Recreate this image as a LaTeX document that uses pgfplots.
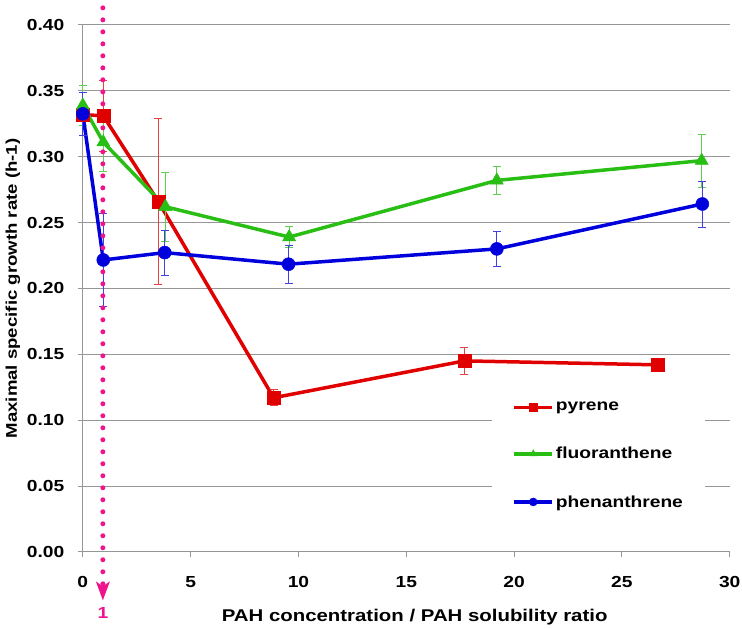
\documentclass[border=0pt]{standalone}
\usepackage{fontspec}
\setmainfont{Liberation Sans}[FakeStretch=1.2]
\usepackage{pgfplots}
\usepackage{pgfplotstable}
\pgfplotsset{compat=1.18}
\definecolor{cred}{RGB}{224,0,0}
\definecolor{cgreen}{RGB}{40,190,20}
\definecolor{cblue}{RGB}{0,0,220}
\definecolor{cpink}{RGB}{240,20,140}
\definecolor{cgrid}{RGB}{150,150,150}

\pgfplotstableread{
x y e
0 0.332 0
0.95 0.331 0.027
3.5 0.266 0.063
8.85 0.117 0.006
17.7 0.145 0.0105
26.65 0.142 0
}\pyrene
\pgfplotstableread{
x y e
0 0.339 0.015
0.95 0.311 0.022
3.83 0.262 0.026
9.57 0.239 0.008
19.2 0.282 0.0105
28.7 0.297 0.020
}\fluor
\pgfplotstableread{
x y e
0 0.3325 0.016
0.95 0.2216 0.035
3.8 0.2272 0.017
9.54 0.2184 0.0145
19.2 0.230 0.0133
28.73 0.2641 0.0175
}\phen

\begin{document}
\begin{tikzpicture}
\begin{axis}[
  scale only axis,
  width=647pt, height=527pt,
  xmin=0, xmax=30, ymin=0, ymax=0.40,
  xtick={0,5,...,30},
  ytick={0,0.05,...,0.40},
  axis x line=bottom, axis y line=left,
  axis line style={-, cgrid, line width=1pt},
  tick style={cgrid, line width=1pt},
  tick align=outside,
  major tick length=5pt,
  ymajorgrids,
  major grid style={cgrid, line width=1pt},
  clip=false,
  font=\fontsize{16}{19}\selectfont\bfseries,
  /pgf/number format/assume math mode=true,
  yticklabel style={/pgf/number format/.cd, fixed, fixed zerofill, precision=2},
  xticklabel shift=16pt,
  yticklabel shift=10pt,
  xlabel={PAH concentration / PAH solubility ratio},
  ylabel={Maximal specific growth rate (h-1)},
  every axis x label/.style={at={(rel axis cs:0.513,-0.1235)}, anchor=center, font=\fontsize{17}{20}\selectfont\bfseries},
  every axis y label/.style={at={(rel axis cs:-0.108,0.5)}, rotate=90, anchor=center, font=\fontsize{15.5}{18}\selectfont\bfseries},
  legend style={at={(rel axis cs:0.633,0.311)}, anchor=north west, draw=none, fill=white,
    font=\fontsize{16}{19}\selectfont\bfseries, row sep=31pt, inner xsep=20pt, inner ysep=12pt},
  legend cell align=left,
  legend image code/.code={\draw[#1, mark size=4pt, mark repeat=2, mark phase=2] plot coordinates {(0pt,0pt) (19pt,0pt) (38pt,0pt)};},
  error bars/y dir=both, error bars/y explicit,
]
\addplot+[cred, line width=3.5pt, mark=square*, mark size=6.5pt, mark options={solid, fill=cred, line width=0.5pt},
  error bars/error bar style={cred!75, line width=0.8pt},
  error bars/error mark options={rotate=90, mark size=4pt, cred!75, line width=0.8pt}]
  table[x=x, y=y, y error=e] {\pyrene};
\addlegendentry{pyrene}
\addplot+[cgreen, line width=3.5pt, mark=triangle*, mark size=7.5pt, mark options={solid, fill=cgreen, line width=0.5pt},
  error bars/error bar style={cgreen!75, line width=0.8pt},
  error bars/error mark options={rotate=90, mark size=4pt, cgreen!75, line width=0.8pt}]
  table[x=x, y=y, y error=e] {\fluor};
\addlegendentry{fluoranthene}
\addplot+[cblue, line width=3.5pt, mark=*, mark size=6.5pt, mark options={solid, fill=cblue, line width=0.5pt},
  error bars/error bar style={cblue!75, line width=0.8pt},
  error bars/error mark options={rotate=90, mark size=4pt, cblue!75, line width=0.8pt}]
  table[x=x, y=y, y error=e] {\phen};
\addlegendentry{phenanthrene}
% annotation: dotted marker line at ratio 1
\draw[cpink, line width=5pt, line cap=round, dash pattern=on 0pt off 12pt]
  (axis cs:0.93,0.413) -- (axis cs:0.93,-0.027);
\fill[cpink] (axis cs:0.93,-0.0368) -- ++(-7pt,19pt) -- ++(7pt,-5pt) -- ++(7pt,5pt) -- cycle;
\node[cpink, font=\fontsize{16}{19}\selectfont\bfseries] at (axis cs:0.93,-0.0465) {1};
\coordinate (bbl) at (rel axis cs:-0.128,-0.146);
\coordinate (btr) at (rel axis cs:1.019,1.0474);
\end{axis}
\pgfresetboundingbox
\path[use as bounding box] (bbl) rectangle (btr);
\end{tikzpicture}
\end{document}
